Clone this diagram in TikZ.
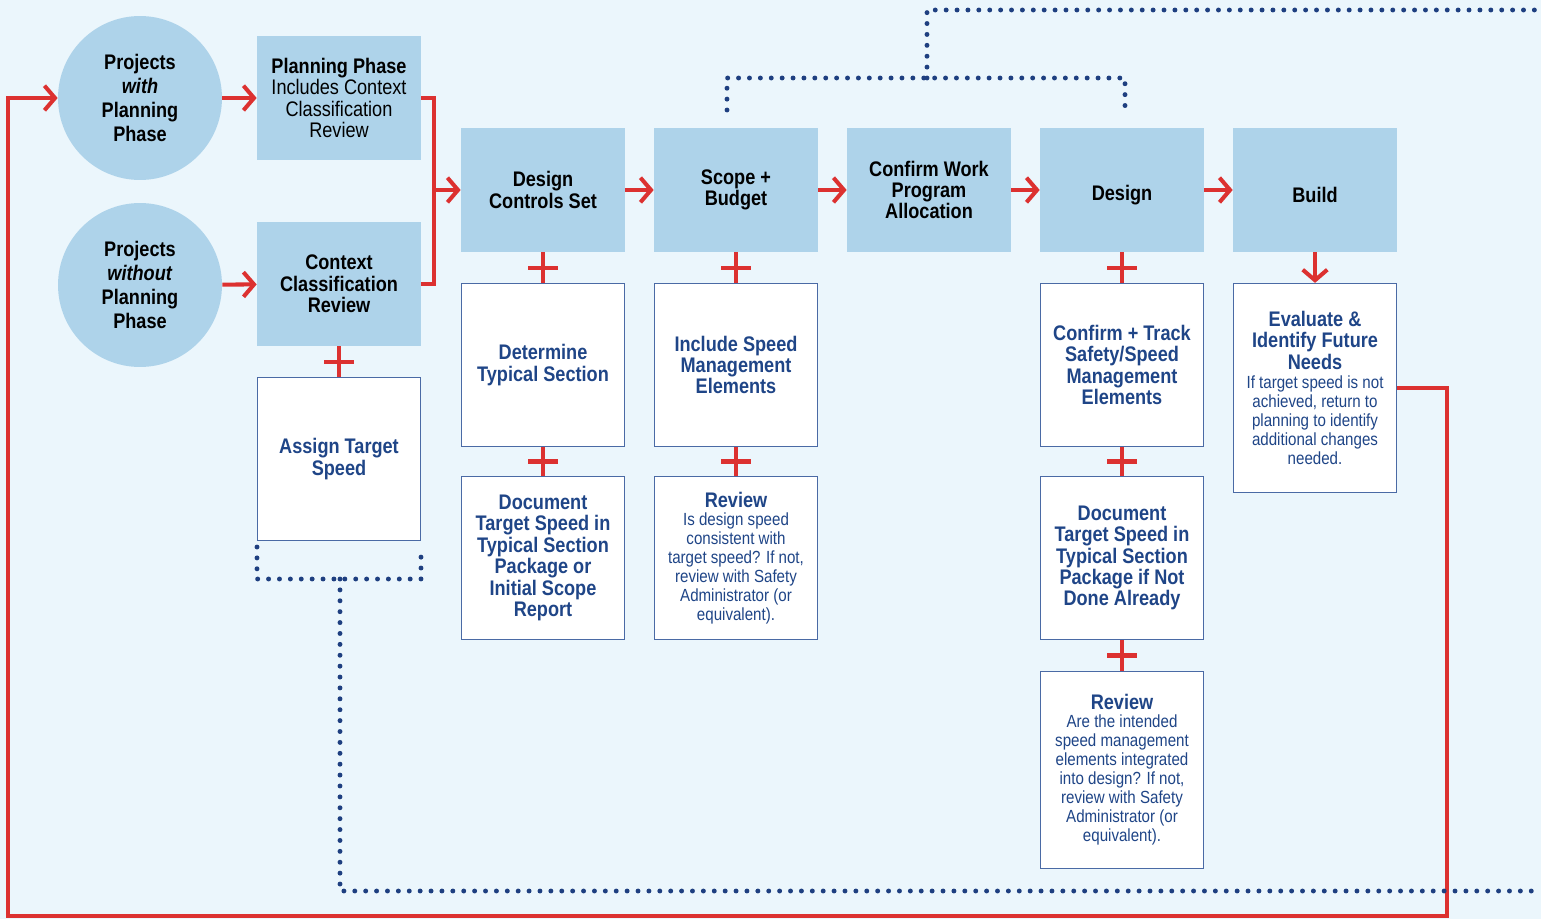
\documentclass[tikz,border=0pt]{standalone}
\usepackage{fontspec}
\setmainfont{Liberation Sans}[FakeStretch=0.86]
\usetikzlibrary{arrows.meta}
\definecolor{bgblue}{HTML}{EBF6FC}
\definecolor{lblue}{HTML}{AED3EA}
\definecolor{flowred}{HTML}{DC3130}
\definecolor{navy}{HTML}{1F4587}
\definecolor{boxblue}{HTML}{4A6AA5}
\definecolor{dotblue}{HTML}{1E3F80}
\newcommand\hdfont{\fontsize{12}{12.2}\selectfont\bfseries}
\newcommand\smfont{\fontsize{10}{10.6}\selectfont\mdseries}
\begin{document}
\begin{tikzpicture}[x=0.02cm,y=-0.02cm,
    proj/.style={circle,fill=lblue,minimum size=3.28cm,inner sep=0pt,align=center,font=\fontsize{12}{13.6}\selectfont\bfseries},
    phase/.style={fill=lblue,minimum width=3.28cm,minimum height=2.48cm,inner sep=2pt,align=center,font=\hdfont,execute at begin node={\rule{0pt}{14pt}}},
    task/.style={draw=boxblue,line width=0.7pt,fill=white,minimum width=3.26cm,minimum height=#1,inner sep=2pt,align=center,text=navy,font=\hdfont,execute at begin node={\rule{0pt}{15pt}}},
    task/.default=3.26cm,
    flow/.style={draw=flowred,line width=2.3pt,-{Straight Barb[length=6pt,width=14pt]}},
    link/.style={draw=flowred,line width=2.3pt},
    plusbar/.style={fill=flowred,inner sep=0pt,minimum width=0.6cm,minimum height=2.3pt},
    loop/.style={draw=dotblue,line width=2.8pt,line cap=round,dash pattern=on 0pt off 6.2pt}]
    \fill[bgblue] (0,0) rectangle (1541,919);
    \useasboundingbox (0,0) rectangle (1541,919);
    % entry points
    \node[proj] (withpp) at (140,98) {Projects\\ \textit{with}\\ Planning\\ Phase};
    \node[proj] (nopp) at (140,285) {Projects\\ \textit{without}\\ Planning\\ Phase};
    \node[phase] (plan) at (339,98) {Planning Phase\\ \mdseries Includes Context\\ \mdseries Classification\\ \mdseries Review};
    \node[phase] (ctx) at (339,284) {Context\\ Classification\\ Review};
    \node[task] (target) at (339,459) {Assign Target\\ Speed};
    % main row
    \node[phase] (dcs) at (543,190) {Design\\ Controls Set};
    \node[phase] (scope) at (736,190) {Scope +\\ Budget};
    \node[phase] (confirm) at (929,190) {Confirm Work\\ Program\\ Allocation};
    \node[phase] (design) at (1122,190) {Design};
    \node[phase] (build) at (1315,190) {Build};
    % tasks under the row
    \node[task] (typical) at (543,365) {Determine\\ Typical Section};
    \node[task] (doc1) at (543,558) {Document\\ Target Speed in\\ Typical Section\\ Package or\\ Initial Scope\\ Report};
    \node[task] (include) at (736,365) {Include Speed\\ Management\\ Elements};
    \node[task] (review1) at (736,558) {Review\\[-2pt] \smfont Is design speed\\[-1.4pt] \smfont consistent with\\[-1.4pt] \smfont target speed? If not,\\[-1.4pt] \smfont review with Safety\\[-1.4pt] \smfont Administrator (or\\[-1.4pt] \smfont equivalent).};
    \node[task] (track) at (1122,365) {Confirm + Track\\ Safety/Speed\\ Management\\ Elements};
    \node[task] (doc2) at (1122,558) {Document\\ Target Speed in\\ Typical Section\\ Package if Not\\ Done Already};
    \node[task=3.94cm] (review2) at (1122,770) {Review\\[-2pt] \smfont Are the intended\\[-1.4pt] \smfont speed management\\[-1.4pt] \smfont elements integrated\\[-1.4pt] \smfont into design? If not,\\[-1.4pt] \smfont review with Safety\\[-1.4pt] \smfont Administrator (or\\[-1.4pt] \smfont equivalent).};
    \node[task=4.18cm] (eval) at (1315,388) {Evaluate \&\\ Identify Future\\ Needs\\[-1pt] \smfont If target speed is not\\[-1.4pt] \smfont achieved, return to\\[-1.4pt] \smfont planning to identify\\[-1.4pt] \smfont additional changes\\[-1.4pt] \smfont needed.};
    % red flow
    \draw[flow] (withpp) -- (plan);
    \draw[flow] (nopp) -- (ctx);
    \coordinate (join) at (434,190);
    \draw[link] (plan.east) -| (join) |- (ctx.east);
    \draw[flow] (join) -- (dcs.west);
    \draw[flow] (dcs) -- (scope);
    \draw[flow] (scope) -- (confirm);
    \draw[flow] (confirm) -- (design);
    \draw[flow] (design) -- (build);
    \draw[flow] (build) -- (eval);
    \draw[link] (ctx) -- node[plusbar]{} (target);
    \draw[link] (dcs) -- node[plusbar]{} (typical);
    \draw[link] (typical) -- node[plusbar]{} (doc1);
    \draw[link] (scope) -- node[plusbar]{} (include);
    \draw[link] (include) -- node[plusbar]{} (review1);
    \draw[link] (design) -- node[plusbar]{} (track);
    \draw[link] (track) -- node[plusbar]{} (doc2);
    \draw[link] (doc2) -- node[plusbar]{} (review2);
    % return loop
    \coordinate (loopR) at (1447,916);
    \coordinate (loopL) at (8,916);
    \draw[flow] (eval.east) -| (loopR) -- (loopL) |- (withpp.west);
    % dotted links
    \coordinate (tgtL) at (257,547);
    \coordinate (tgtR) at (421,547);
    \coordinate (tgtM) at (340,579);
    \coordinate (botE) at (1541,891);
    \draw[loop] (tgtL) |- (tgtR |- tgtM) -- (tgtR);
    \draw[loop] (tgtM) |- (botE);
    \coordinate (scopeT) at (727,110);
    \coordinate (designT) at (1125,110);
    \coordinate (topM) at (927,78);
    \coordinate (topE) at (1541,10);
    \draw[loop] (scopeT) |- (designT |- topM) -- (designT);
    \draw[loop] (topM) |- (topE);
\end{tikzpicture}
\end{document}
